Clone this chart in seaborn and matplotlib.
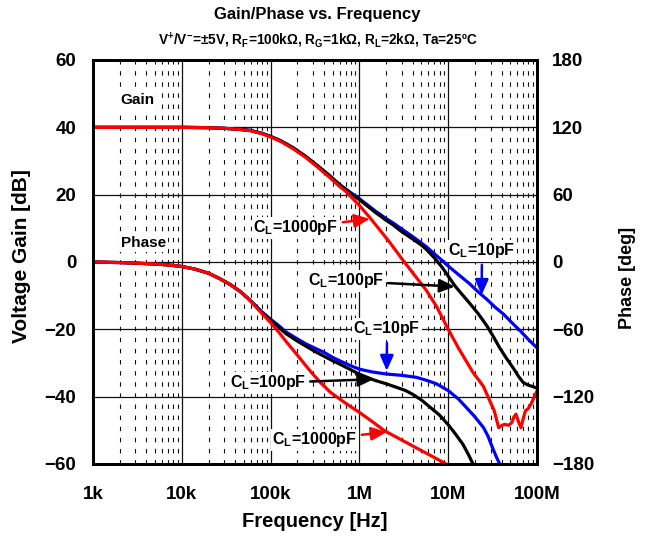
"""Gain/Phase vs. Frequency chart recreated with seaborn."""
import matplotlib

matplotlib.use("Agg")
import matplotlib.pyplot as plt
import seaborn as sns
from matplotlib.ticker import FixedLocator, NullFormatter

# gain curves [dB]
gain_freq_10pf = [1e3, 5e3, 1e4, 2e4, 3e4, 4e4, 5.9e4, 8e4, 1e5, 1.3e5, 1.8e5, 2.5e5,
                  3.3e5, 4.5e5, 6e5, 8e5, 1e6, 1.5e6, 2e6, 2.4e6, 3e6, 4e6, 5.7e6,
                  7e6, 8.5e6, 1e7, 1.3e7, 1.75e7, 2.2e7, 2.7e7, 3.4e7, 4.2e7, 5.2e7,
                  6.5e7, 8e7, 1e8]
gain_10pf = [40, 40, 40, 39.9, 39.7, 39.5, 39.1, 38.2, 37.3, 36.0, 33.9, 31.3,
             28.8, 25.9, 23.0, 20.6, 18.8, 15.2, 12.9, 11.6, 9.8, 7.5, 4.5,
             2.4, 0.5, -1.2, -3.7, -6.5, -9.0, -11.0, -13.5, -15.5, -18.0,
             -20.5, -23.0, -25.5]

gain_freq_100pf = [1e3, 5e3, 1e4, 2e4, 3e4, 4e4, 5.9e4, 8e4, 1e5, 1.3e5, 1.8e5, 2.5e5,
                   3.3e5, 4.5e5, 6e5, 8e5, 1e6, 1.5e6, 2e6, 2.4e6, 3e6, 4e6, 5e6, 5.7e6,
                   7e6, 8.5e6, 1e7, 1.2e7, 1.4e7, 1.75e7, 2.2e7, 2.7e7, 3.2e7, 3.8e7,
                   4.5e7, 5.4e7, 6.2e7, 7e7, 8e7, 9e7, 1e8]
gain_100pf = [40, 40, 40, 39.9, 39.7, 39.5, 39.1, 38.2, 37.3, 36.0, 33.9, 31.3,
              28.8, 25.9, 22.9, 20.3, 18.5, 14.8, 12.4, 11.0, 9.0, 6.8, 5.0, 3.7,
              1.2, -1.5, -4.2, -7.2, -9.3, -12.3, -15.5, -18.8, -22.0, -25.5,
              -28.5, -31.5, -34.0, -35.8, -36.6, -37.0, -37.5]

gain_freq_1000pf = [1e3, 5e3, 1e4, 2e4, 3e4, 4e4, 5.9e4, 8e4, 1e5, 1.3e5, 1.8e5, 2.5e5,
                    3.3e5, 4.5e5, 6e5, 7e5, 8.5e5, 1e6, 1.3e6, 1.7e6, 2.2e6, 3.1e6,
                    4.2e6, 5.7e6, 7.5e6, 1e7, 1.3e7, 1.6e7, 1.9e7, 2.2e7, 2.5e7, 2.75e7,
                    2.95e7, 3.3e7, 3.7e7, 4e7, 4.3e7, 4.8e7, 5.2e7, 5.5e7, 5.8e7, 6.2e7,
                    6.6e7, 7e7, 7.4e7, 8e7, 8.7e7, 1e8]
gain_1000pf = [40, 40, 40, 39.9, 39.7, 39.5, 39.0, 38.1, 37.1, 35.8, 33.6, 31.0,
               28.4, 25.4, 22.4, 21.0, 18.7, 16.8, 13.3, 9.5, 5.8, 0.5,
               -4.0, -8.5, -13.5, -20.0, -25.5, -29.5, -32.8, -35.0, -37.0, -39.5,
               -41.3, -44.2, -49.2, -48.6, -48.2, -48.5, -47.7, -46.0, -45.2, -47.5,
               -49.2, -46.5, -44.2, -43.5, -41.8, -38.3]

# phase curves [deg]
phase_freq_10pf = [1e3, 2e3, 3e3, 5e3, 7e3, 1e4, 1.4e4, 2e4, 2.7e4, 3.5e4, 4.5e4, 5.5e4,
                   6.3e4, 8e4, 1e5, 1.25e5, 1.5e5, 2e5, 2.5e5, 3.2e5, 4e5, 5e5, 6e5,
                   8e5, 1e6, 1.4e6, 2e6, 3e6, 4.4e6, 6e6, 7.4e6, 1e7, 1.3e7, 1.6e7,
                   2e7, 2.5e7, 2.8e7, 3.16e7, 3.5e7, 3.8e7]
phase_10pf = [0, -0.5, -1, -1.8, -2.6, -4, -6.3, -10, -15, -20, -26, -32,
              -36.5, -44.5, -51, -57, -62.5, -68.5, -73, -77, -80.5, -85, -88,
              -92.5, -95.5, -98, -99.8, -101, -102.8, -106, -108.6, -114.6, -122, -129.6,
              -138, -147.6, -155, -165.6, -174, -180]

phase_freq_100pf = [1e3, 2e3, 3e3, 5e3, 7e3, 1e4, 1.4e4, 2e4, 2.7e4, 3.5e4, 4.5e4, 5.5e4,
                    6.3e4, 8e4, 1e5, 1.25e5, 1.5e5, 2e5, 2.5e5, 3.2e5, 4e5, 5e5, 6e5,
                    8e5, 1e6, 1.5e6, 2e6, 2.6e6, 3.3e6, 4e6, 5e6, 6.3e6, 8e6, 1e7,
                    1.2e7, 1.47e7, 1.7e7, 1.9e7]
phase_100pf = [0, -0.5, -1, -1.8, -2.6, -4, -6.3, -10, -15, -20, -26, -32,
               -36.5, -45, -52, -58.5, -64, -70.5, -75, -80, -84, -88, -91,
               -96, -100, -105.5, -108.5, -111.6, -114.5, -118, -123, -129.6, -136.5, -145,
               -153, -162.6, -172, -180]

phase_freq_1000pf = [1e3, 2e3, 3e3, 5e3, 7e3, 1e4, 1.4e4, 2e4, 2.7e4, 3.5e4, 4.5e4,
                     5.5e4, 6.3e4, 8e4, 1e5, 1.25e5, 1.5e5, 2e5, 2.5e5, 3e5, 3.6e5,
                     4.7e5, 5.75e5, 7.5e5, 1e6, 1.4e6, 1.93e6, 2.7e6, 4e6, 6.3e6,
                     8e6, 9.5e6]
phase_1000pf = [0, -0.5, -1, -1.8, -2.6, -4, -6.3, -10, -15, -20, -26,
                -32, -37, -46, -54, -63, -71, -83, -92.5, -100, -107,
                -116, -121, -127.5, -134, -142.3, -150.5, -156.7, -164, -172.3,
                -176.8, -180]

freq_ticks = [1e3, 1e4, 1e5, 1e6, 1e7, 1e8]
freq_labels = ["1k", "10k", "100k", "1M", "10M", "100M"]
gain_ticks = [60, 40, 20, 0, -20, -40, -60]
phase_ticks = [180, 120, 60, 0, -60, -120, -180]

RED, BLACK, BLUE = "#ff0000", "#000000", "#0000ff"
CL = r"C$_\mathregular{L}$"

sns.set_style("white")
plt.rcParams["font.family"] = ["Liberation Sans", "DejaVu Sans"]
plt.rcParams["font.weight"] = "bold"
plt.rcParams["mathtext.default"] = "regular"
for key in ("text.color", "axes.labelcolor", "xtick.color", "ytick.color"):
    plt.rcParams[key] = "black"

fig = plt.figure(figsize=(6.55, 5.43), dpi=100)
ax = fig.add_axes([93 / 655, 79 / 543, 444 / 655, 404 / 543])
ax2 = ax.twinx()

line_kw = dict(estimator=None, sort=False, linewidth=2.3, legend=False)
sns.lineplot(x=gain_freq_10pf, y=gain_10pf, ax=ax, color=BLUE, **line_kw)
sns.lineplot(x=gain_freq_100pf, y=gain_100pf, ax=ax, color=BLACK, **line_kw)
sns.lineplot(x=gain_freq_1000pf, y=gain_1000pf, ax=ax, color=RED, **line_kw)
sns.lineplot(x=phase_freq_10pf, y=phase_10pf, ax=ax2, color=BLUE, **line_kw)
sns.lineplot(x=phase_freq_100pf, y=phase_100pf, ax=ax2, color=BLACK, **line_kw)
sns.lineplot(x=phase_freq_1000pf, y=phase_1000pf, ax=ax2, color=RED, **line_kw)

for a in (ax, ax2):
    a.set_xscale("log")
    a.set_xlim(1e3, 1e8)
    for s in a.spines.values():
        s.set_linewidth(2)
        s.set_color("black")
        s.set_visible(True)

ax.set_ylim(-60, 60)
ax2.set_ylim(-180, 180)

minor = [m * d for d in freq_ticks[:-1] for m in range(2, 10)]
ax.xaxis.set_major_locator(FixedLocator(freq_ticks))
ax.xaxis.set_minor_locator(FixedLocator(minor))
ax.xaxis.set_minor_formatter(NullFormatter())
ax.set_xticklabels(freq_labels)
ax.set_yticks(gain_ticks)
ax2.set_yticks(phase_ticks)

ax.grid(which="major", color="#111111", linewidth=0.9)
ax.grid(which="minor", axis="x", color="#111111", linewidth=0.8, linestyle=(0, (4, 6)))
ax2.grid(False)

ax.tick_params(axis="x", which="both", length=0, pad=16, labelsize=13.5)
ax.tick_params(axis="y", length=0, pad=12, labelsize=13.5)
ax2.tick_params(axis="y", length=0, pad=11, labelsize=13.5)

ax.set_xlabel("Frequency [Hz]", fontsize=14.5, fontweight="bold")
ax.set_ylabel("Voltage Gain [dB]", fontsize=15, fontweight="bold")
ax2.set_ylabel("Phase [deg]", fontsize=13, fontweight="bold")
ax.xaxis.set_label_coords(0.5, -0.118)
ax.yaxis.set_label_coords(-0.14, 0.515)
ax2.yaxis.set_label_coords(1.185, 0.46)

fig.text(317 / 655, 1 - 15 / 543, "Gain/Phase vs. Frequency",
         ha="center", va="center", fontsize=12, fontweight="bold")
fig.text(318 / 655, 1 - 40 / 543,
         r"V$^\mathregular{+}$/V$^\mathregular{-}$=±5V, R$_\mathregular{F}$=100kΩ, "
         r"R$_\mathregular{G}$=1kΩ, R$_\mathregular{L}$=2kΩ, Ta=25ºC",
         ha="center", va="center", fontsize=9.8, fontweight="bold")

box = dict(boxstyle="square,pad=0.1", fc="white", ec="none")
txt_kw = dict(fontsize=11.5, fontweight="bold", ha="center", va="center", bbox=box)


def arrow(color):
    return dict(arrowstyle="-|>,head_length=0.8,head_width=0.35", color=color,
                lw=1.8, shrinkA=2, shrinkB=0)


ax.text(3.2e3, 48, "Gain", fontsize=11, fontweight="bold", ha="center",
        va="center", bbox=box)
ax.text(3.75e3, 5.6, "Phase", fontsize=11, fontweight="bold", ha="center",
        va="center", bbox=box)

ax.annotate(CL + "=1000pF", xy=(1.31e6, 12.8), xytext=(1.93e5, 10.1),
            arrowprops=arrow(RED), **txt_kw)
ax.annotate(CL + "=10pF", xy=(2.38e7, -9.8), xytext=(2.4e7, 3.3),
            arrowprops=arrow(BLUE), **txt_kw)
ax.annotate(CL + "=100pF", xy=(1.19e7, -7.3), xytext=(7.0e5, -5.6),
            arrowprops=arrow(BLACK), **txt_kw)

ax2.annotate(CL + "=10pF", xy=(2.03e6, -97), xytext=(2.05e6, -59.7),
             arrowprops=arrow(BLUE), **txt_kw)
ax2.annotate(CL + "=100pF", xy=(1.44e6, -104.5), xytext=(9.3e4, -107.8),
             arrowprops=arrow(BLACK), **txt_kw)
ax2.annotate(CL + "=1000pF", xy=(2.03e6, -151.5), xytext=(3.16e5, -158.6),
             arrowprops=arrow(RED), **txt_kw)

fig.savefig("out.png", dpi=100)
plt.close(fig)
